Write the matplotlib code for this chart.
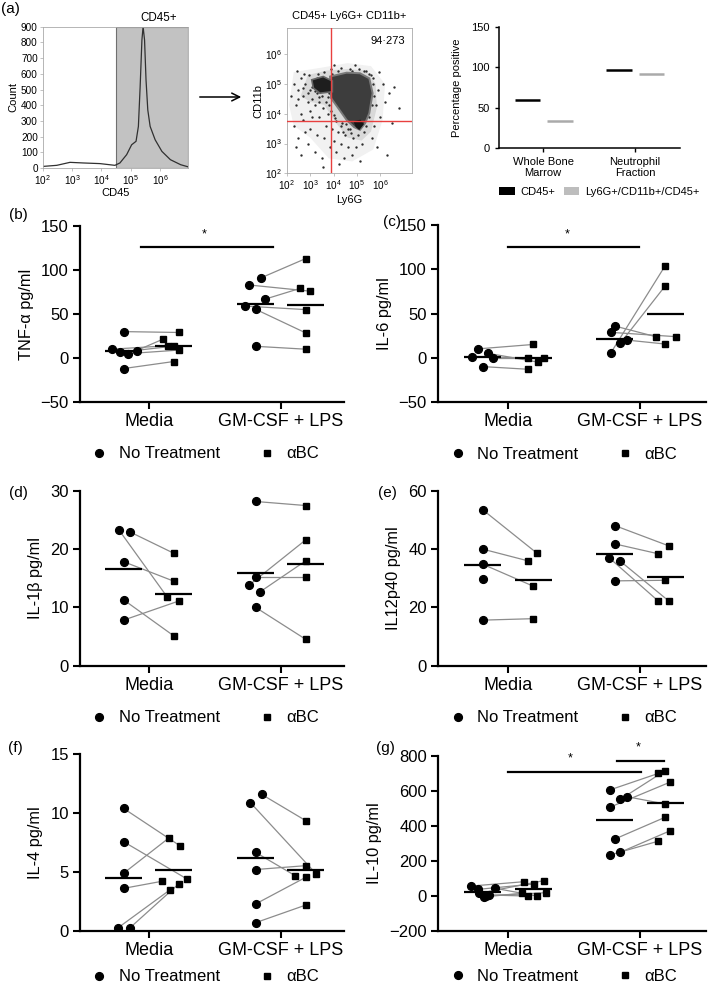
import numpy as np
import matplotlib
matplotlib.use('Agg')
import matplotlib.pyplot as plt
from matplotlib.lines import Line2D
from matplotlib.patches import Patch, FancyArrowPatch

plt.rcParams['font.family'] = ['Liberation Sans', 'DejaVu Sans']
plt.rcParams['mathtext.fontset'] = 'custom'
plt.rcParams['mathtext.rm'] = 'Liberation Sans'
plt.rcParams['mathtext.it'] = 'Liberation Sans:italic'
plt.rcParams['mathtext.bf'] = 'Liberation Sans:bold'
plt.rcParams['mathtext.default'] = 'regular'

# ------------------------------------------------------------------ data
# (a) CD45 histogram (log10 CD45 intensity vs count)
hist_log_cd45 = [2.0, 2.48, 2.93, 3.39, 3.95, 4.46, 4.63, 4.86, 5.03, 5.18, 5.26,
                 5.32, 5.38, 5.42, 5.47, 5.52, 5.58, 5.66, 5.83, 6.06, 6.35, 6.70, 6.98]
hist_count = [10, 17, 36, 32, 28, 17, 32, 85, 148, 170, 265,
              519, 815, 900, 815, 561, 370, 265, 180, 106, 53, 21, 6]
gate_log_cd45 = 4.5

# (a) Ly6G / CD11b dot plot (log10 units): density outlines + sparse events
outer_ly6g = [2.1, 2.3, 3.5, 4.6, 5.6, 6.2, 6.1, 5.7, 4.8, 3.8, 3.0, 2.3]
outer_cd11b = [4.3, 5.4, 5.55, 5.7, 5.6, 5.0, 3.8, 2.8, 2.4, 2.5, 3.2, 3.6]
mid_ly6g = [2.6, 2.9, 3.7, 4.6, 5.4, 5.8, 5.85, 5.6, 5.2, 4.6, 4.1, 3.6, 3.0]
mid_cd11b = [4.6, 5.3, 5.45, 5.5, 5.45, 5.0, 4.2, 3.4, 3.1, 3.2, 3.7, 4.3, 4.4]
dense_ly6g = [3.85, 4.56, 5.13, 5.53, 5.67, 5.53, 5.35, 5.13, 4.88, 4.56, 4.21, 3.9]
dense_cd11b = [5.25, 5.38, 5.36, 5.19, 4.69, 4.02, 3.68, 3.46, 3.55, 3.79, 4.18, 4.52]
cluster_ly6g = [3.07, 3.56, 3.95, 3.95, 3.42, 3.14]
cluster_cd11b = [5.14, 5.25, 5.1, 4.74, 4.69, 4.86]
tip_ly6g = [4.85, 5.15, 5.3, 5.1, 4.95]
tip_cd11b = [3.75, 3.8, 3.65, 3.45, 3.55]
sparse_ly6g = [2.3, 2.5, 2.6, 2.7, 2.8, 2.9, 2.95, 3.0, 3.1, 3.15, 3.2, 3.3, 3.35, 3.4,
               3.5, 3.55, 3.6, 3.7, 3.75, 2.4, 2.2, 2.6, 3.0, 3.8, 3.45, 2.75, 3.25, 2.45,
               2.3, 2.5, 2.7, 2.9, 3.0, 3.2, 3.3, 3.4, 3.5, 3.6, 3.7, 2.6, 3.1, 3.85, 2.4,
               3.55, 2.8, 3.95, 4.0, 4.1, 4.2, 4.3, 4.35, 4.45, 4.5, 4.6, 4.7, 4.8, 4.85,
               4.95, 5.05, 5.15, 5.2, 4.05, 4.55, 5.3, 4.25, 5.7, 5.8, 5.9, 6.0, 6.1, 6.2,
               6.35, 6.5, 5.75, 5.95, 6.6, 5.65, 6.3, 5.85, 6.8, 3.9, 4.3, 4.7, 5.1, 5.4,
               4.0, 4.9, 5.5,
               3.7, 3.75, 3.65, 3.8, 3.6, 3.5, 3.9, 4.0, 4.1, 4.3, 4.4, 4.6, 4.75, 5.4,
               5.5, 5.65, 5.75, 5.7, 5.6, 5.3, 4.8, 4.2, 3.95, 3.3, 3.1, 2.9, 3.4, 3.2,
               2.7, 2.5]
sparse_cd11b = [5.0, 4.8, 5.2, 4.6, 5.0, 4.4, 5.3, 4.8, 4.5, 5.1, 4.3, 4.7, 5.35, 4.4,
                4.6, 4.2, 5.4, 4.4, 4.0, 4.3, 4.6, 4.0, 4.1, 4.7, 5.0, 5.35, 4.95, 5.45,
                3.6, 3.2, 3.8, 3.0, 3.5, 2.7, 3.3, 3.9, 2.5, 3.2, 3.6, 2.6, 3.9, 2.9, 2.9,
                2.2, 3.4, 3.5, 3.1, 2.7, 3.4, 3.0, 3.7, 2.5, 3.3, 2.9, 3.5, 2.6, 3.2,
                2.9, 3.3, 2.4, 3.0, 3.85, 3.65, 3.4, 2.3, 5.2, 4.3, 4.8, 3.9, 5.0, 4.4,
                4.7, 3.7, 3.6, 5.4, 4.9, 3.2, 2.6, 2.9, 4.2, 5.5, 5.55, 5.5, 5.5, 5.45,
                5.65, 5.65, 5.35,
                4.9, 4.55, 5.1, 4.3, 4.75, 4.9, 4.1, 3.95, 3.75, 3.6, 3.4, 3.5, 3.35, 3.6,
                3.9, 4.3, 4.6, 5.0, 5.3, 5.45, 5.45, 5.45, 5.35, 5.2, 4.9, 4.7, 4.55, 4.75,
                4.85, 4.5]
quad_ly6g = 3.88
quad_cd11b = 3.77
quad_pct = '94·273'

# (a) percentage positive
pct_categories = ['Whole Bone\nMarrow', 'Neutrophil\nFraction']
pct_cd45 = [59, 96.5]
pct_triple = [33.5, 92]
pct_series = ['CD45+', 'Ly6G+/CD11b+/CD45+']

groups = ['Media', 'GM-CSF + LPS']
treatments = ['No Treatment', 'αBC']

# (b) TNF-a
tnf_media_nt = [30, 10, 6.5, 5, 8.5, -12]
tnf_media_ab = [29, 14, 13.5, 9, 21.5, -4]
tnf_gm_nt = [91, 83, 67, 59, 55.4, 13.3]
tnf_gm_ab = [113, 76, 79, 55, 28.5, 10]
# (c) IL-6
il6_media_nt = [1, 10, 5, 0, -10]
il6_media_ab = [0, 15, -5, 0, -13]
il6_gm_nt = [5.7, 28.7, 35.8, 16.2, 20]
il6_gm_ab = [103.8, 23.8, 23.8, 81, 15.5]
# (d) IL-1b
il1b_media_nt = [23.3, 23, 17.85, 11.3, 7.8]
il1b_media_ab = [11.8, 19.3, 14.5, 5.1, 11.1]
il1b_gm_nt = [28.2, 15.3, 13.8, 12.6, 10]
il1b_gm_ab = [27.5, 15.3, 21.6, 18, 4.5]
# (e) IL12p40 (one Media aBC sample missing)
il12_media_nt = [53.5, 40, 34.8, 29.7, 15.6]
il12_media_ab = [38.6, 36, 27.3, np.nan, 16.1]
il12_gm_nt = [48.1, 41.8, 37.1, 35.9, 29.1]
il12_gm_ab = [41.1, 38.4, 22.1, 22.1, 29.3]
# (f) IL-4
il4_media_nt = [10.4, 7.57, 4.88, 3.6, 0.26, 0.26]
il4_media_ab = [7.2, 4.4, 7.9, 4.2, 3.5, 4.0]
il4_gm_nt = [11.6, 10.9, 6.66, 5.2, 2.27, 0.68]
il4_gm_ab = [9.36, 4.82, 4.68, 5.53, 4.54, 2.18]
# (g) IL-10
il10_media_nt = [55, 36, 13, -6, 4, 42, 0]
il10_media_ab = [80, 67, 86, 13, -2, -2, 17]
il10_gm_nt = [604, 505, 550, 566, 324, 232, 248]
il10_gm_ab = [699, 648, 714, 524, 448, 312, 370]

# horizontal scatter of points within each column (category units)
tnf_dx = ([0, -0.09, -0.03, 0.035, 0.1, 0], [0.04, -0.04, 0.0, 0.04, -0.08, 0],
          [0.04, -0.05, 0.075, -0.08, 0, 0], [0, 0.03, -0.045, 0, 0, 0])
il6_dx = ([-0.08, -0.04, 0.04, 0.08, 0], [-0.04, 0, 0.04, 0.08, -0.04],
          [-0.03, -0.03, 0, 0.04, 0.09], [0, 0.085, -0.07, 0, 0])
il1b_dx = ([-0.035, 0.045, 0, 0, 0], [-0.05, 0, 0, 0, 0.04],
           [0, 0, -0.05, 0.03, 0], [0, 0, 0, 0, 0])
il12_dx = ([0, 0, 0, 0, 0], [0.03, -0.04, 0, 0, 0],
           [0, 0, -0.045, 0.04, 0], [0.03, -0.05, -0.05, 0.03, 0])
il4_dx = ([0, 0, 0, 0, -0.04, 0.05], [0.05, 0.1, -0.035, -0.09, -0.025, 0.04],
          [0.045, -0.04, 0, 0, 0, 0], [0, 0.08, -0.08, 0, 0, 0])
il10_dx = ([-0.09, -0.04, -0.03, 0.01, 0.045, 0.095, 0.02],
           [-0.07, 0.01, 0.08, -0.08, -0.04, 0.03, 0.095],
           [-0.04, -0.04, 0.04, 0.09, 0, -0.04, 0.04],
           [-0.05, 0.035, 0, 0, 0, -0.05, 0.035])

# ------------------------------------------------------------------ figure
W, H = 709, 986
fig = plt.figure(figsize=(W / 100, H / 100), dpi=100)


def add_ax(l, t, r, b):
    return fig.add_axes([l / W, 1 - b / H, (r - l) / W, (b - t) / H])


def log_labels(vals):
    return ['10$^{%d}$' % v for v in vals]


def lg(v):
    return 10 ** np.asarray(v, float)


# --- histogram
axh = add_ax(42.7, 26.7, 188, 168)
axh.set_xscale('log')
axh.axvspan(10 ** gate_log_cd45, 10 ** 6.95, facecolor='#c2c2c2', edgecolor='#707070', lw=0.8, zorder=0)
axh.plot(lg(hist_log_cd45), hist_count, color='#303030', lw=0.9, zorder=2)
axh.set_xlim(10 ** 2, 10 ** 6.95)
axh.set_ylim(0, 900)
axh.set_yticks(range(0, 901, 100))
axh.set_xticks([10 ** k for k in range(2, 7)])
axh.set_xticklabels(log_labels(range(2, 7)))
axh.xaxis.set_minor_locator(matplotlib.ticker.NullLocator())
axh.tick_params(labelsize=7.2, length=2, width=0.5, color='#aaaaaa', pad=1.5)
for s in axh.spines.values():
    s.set_color('#aaaaaa'); s.set_linewidth(0.6)
axh.set_ylabel('Count', fontsize=8, labelpad=2)
axh.set_xlabel('CD45', fontsize=8, labelpad=1)
axh.text(10 ** 5.95, 915, 'CD45+', ha='center', va='bottom', fontsize=8.3)

# arrow
fig.add_artist(FancyArrowPatch((197, H - 97), (244, H - 97), transform=None,
                               arrowstyle='->', mutation_scale=14, lw=1.1, color='black'))

# --- dot plot
axs = add_ax(286.7, 28.3, 411.7, 173.3)
axs.set_xscale('log'); axs.set_yscale('log')
axs.fill(lg(outer_ly6g), lg(outer_cd11b), color='#f1f1f1', lw=0, zorder=0)
axs.fill(lg(mid_ly6g), lg(mid_cd11b), color='#d9d9d9', lw=0, zorder=0)
axs.plot(lg(sparse_ly6g), lg(sparse_cd11b), '.', color='#2a2a2a', ms=1.4, zorder=1)
axs.fill(lg(dense_ly6g), lg(dense_cd11b), facecolor='#3d3d3d',
         edgecolor='#7a7a7a', lw=1.4, zorder=2)
axs.fill(lg(cluster_ly6g), lg(cluster_cd11b), facecolor='#1e1e1e',
         edgecolor='#666666', lw=1.2, zorder=2)
axs.fill(lg(tip_ly6g), lg(tip_cd11b), facecolor='#151515', lw=0, zorder=3)
axs.axvline(10 ** quad_ly6g, color='#e8403f', lw=1.0, zorder=4)
axs.axhline(10 ** quad_cd11b, color='#e8403f', lw=1.0, zorder=4)
axs.set_xlim(10 ** 2, 10 ** 7.34)
axs.set_ylim(10 ** 2, 10 ** 6.87)
axs.set_xticks([10 ** k for k in range(2, 7)])
axs.set_xticklabels(log_labels(range(2, 7)))
axs.set_yticks([10 ** k for k in range(2, 7)])
axs.set_yticklabels(log_labels(range(2, 7)))
axs.xaxis.set_minor_locator(matplotlib.ticker.NullLocator())
axs.yaxis.set_minor_locator(matplotlib.ticker.NullLocator())
axs.tick_params(labelsize=7.2, length=2, width=0.5, color='#aaaaaa', pad=1.5)
for s in axs.spines.values():
    s.set_color('#aaaaaa'); s.set_linewidth(0.6)
axs.set_xlabel('Ly6G', fontsize=8, labelpad=2)
axs.set_ylabel('CD11b', fontsize=8, labelpad=1)
axs.set_title('CD45+ Ly6G+ CD11b+', fontsize=8, pad=7)
axs.text(0.95, 0.95, quad_pct, transform=axs.transAxes, ha='right', va='top', fontsize=8)

# --- percentage positive
axp = add_ax(499, 27, 680, 148)
xp = np.arange(len(pct_categories))
axp.hlines(pct_cd45, xp - 0.17 - 0.14, xp - 0.17 + 0.14, color='black', lw=1.8)
axp.hlines(pct_triple, xp + 0.18 - 0.14, xp + 0.18 + 0.14, color='#aaaaaa', lw=1.8)
axp.set_xlim(-0.48, 1.49)
axp.set_ylim(0, 150)
axp.set_yticks([0, 50, 100, 150])
axp.set_xticks(xp)
axp.set_xticklabels(pct_categories, fontsize=8.3, linespacing=1.15)
axp.tick_params(labelsize=8, length=3, width=1)
for s in ['top', 'right']:
    axp.spines[s].set_visible(False)
for s in ['left', 'bottom']:
    axp.spines[s].set_linewidth(1.1)
axp.set_ylabel('Percentage positive', fontsize=8, labelpad=7)
axp.legend([Patch(facecolor='black'), Patch(facecolor='#bdbdbd')], pct_series,
           loc='center left', bbox_to_anchor=(0.0, -0.36), ncol=2, frameon=False,
           fontsize=8, handlelength=1.4, handleheight=0.8, handletextpad=0.5,
           columnspacing=0.8, borderaxespad=0, borderpad=0)


# --- cytokine panels
OFF = 0.19
HW = 0.14


def dot_panel(ax, media_nt, media_ab, gm_nt, gm_ab, dx, ylim, yticks, ylabel, xlim, leg_y):
    sets = [(media_nt, media_ab, dx[0], dx[1]), (gm_nt, gm_ab, dx[2], dx[3])]
    for gi, (nt, ab, ndx, adx) in enumerate(sets):
        nt = np.asarray(nt, float); ab = np.asarray(ab, float)
        xn = gi - OFF + np.asarray(ndx); xa = gi + OFF + np.asarray(adx)
        for i in range(len(nt)):
            if np.isfinite(ab[i]):
                ax.plot([xn[i], xa[i]], [nt[i], ab[i]], color='#8c8c8c', lw=0.9, zorder=1)
        ok = np.isfinite(ab)
        ax.plot(xn, nt, 'o', color='black', ms=5.6, zorder=3)
        ax.plot(xa[ok], ab[ok], 's', color='black', ms=5.0, zorder=3)
        ax.hlines(np.nanmean(nt), gi - OFF - HW, gi - OFF + HW, color='black', lw=1.6, zorder=2)
        ax.hlines(np.nanmean(ab), gi + OFF - HW, gi + OFF + HW, color='black', lw=1.6, zorder=2)
    ax.set_xlim(*xlim)
    ax.set_ylim(*ylim)
    ax.set_yticks(yticks)
    ax.set_xticks([0, 1])
    ax.set_xticklabels(groups, fontsize=13)
    ax.tick_params(axis='y', labelsize=12)
    ax.tick_params(length=5, width=1.5, pad=3)
    for s in ['top', 'right']:
        ax.spines[s].set_visible(False)
    for s in ['left', 'bottom']:
        ax.spines[s].set_linewidth(1.6)
    ax.set_ylabel(ylabel, fontsize=11.8, labelpad=5)
    handles = [Line2D([], [], marker='o', ls='none', color='black', ms=5.6),
               Line2D([], [], marker='s', ls='none', color='black', ms=5.0)]
    ax.legend(handles, treatments, loc='center left', bbox_to_anchor=(0.045, leg_y), ncol=2,
              frameon=False, fontsize=12, handlelength=0.9, handletextpad=0.7,
              columnspacing=2.4, borderaxespad=0, borderpad=0)


def sig(ax, x0, x1, y, ys, xs):
    ax.plot([x0, x1], [y, y], color='black', lw=1.6, clip_on=False, zorder=4)
    ax.text(xs, ys, '*', ha='center', va='center', fontsize=9, clip_on=False)


XL = (-0.52, 1.48)
XR = (-0.53, 1.5)

axb = add_ax(80, 226, 344, 402)
dot_panel(axb, tnf_media_nt, tnf_media_ab, tnf_gm_nt, tnf_gm_ab, tnf_dx, (-50, 150),
          [-50, 0, 50, 100, 150], 'TNF-α pg/ml', XL, -0.295)
sig(axb, -0.06, 0.94, 126, 140, 0.42)

axc = add_ax(438, 225, 706, 402)
dot_panel(axc, il6_media_nt, il6_media_ab, il6_gm_nt, il6_gm_ab, il6_dx, (-50, 150),
          [-50, 0, 50, 100, 150], 'IL-6 pg/ml', XR, -0.295)
sig(axc, 0.0, 0.99, 125, 139, 0.45)

axd = add_ax(80, 491, 344, 665.5)
dot_panel(axd, il1b_media_nt, il1b_media_ab, il1b_gm_nt, il1b_gm_ab, il1b_dx, (0, 30),
          [0, 10, 20, 30], 'IL-1β pg/ml', XL, -0.30)

axe = add_ax(438, 491, 706, 665.5)
dot_panel(axe, il12_media_nt, il12_media_ab, il12_gm_nt, il12_gm_ab, il12_dx, (0, 60),
          [0, 20, 40, 60], 'IL12p40 pg/ml', XR, -0.30)

axf = add_ax(80, 754.3, 344, 930.7)
dot_panel(axf, il4_media_nt, il4_media_ab, il4_gm_nt, il4_gm_ab, il4_dx, (0, 15),
          [0, 5, 10, 15], 'IL-4 pg/ml', XL, -0.262)

axg = add_ax(438, 755.7, 706, 930.7)
dot_panel(axg, il10_media_nt, il10_media_ab, il10_gm_nt, il10_gm_ab, il10_dx, (-200, 800),
          [-200, 0, 200, 400, 600, 800], 'IL-10 pg/ml', XR, -0.262)
sig(axg, 0.0, 1.01, 705, 783, 0.47)
sig(axg, 0.826, 1.18, 771, 850, 0.985)

# panel letters
for lab, x, y in [('(a)', 10, 9), ('(b)', 18, 215), ('(c)', 392, 222), ('(d)', 18, 493),
                  ('(e)', 387, 493), ('(f)', 15, 748), ('(g)', 385, 748)]:
    fig.text(x / W, 1 - y / H, lab, ha='center', va='center', fontsize=11)

fig.savefig('out.png', dpi=100)
